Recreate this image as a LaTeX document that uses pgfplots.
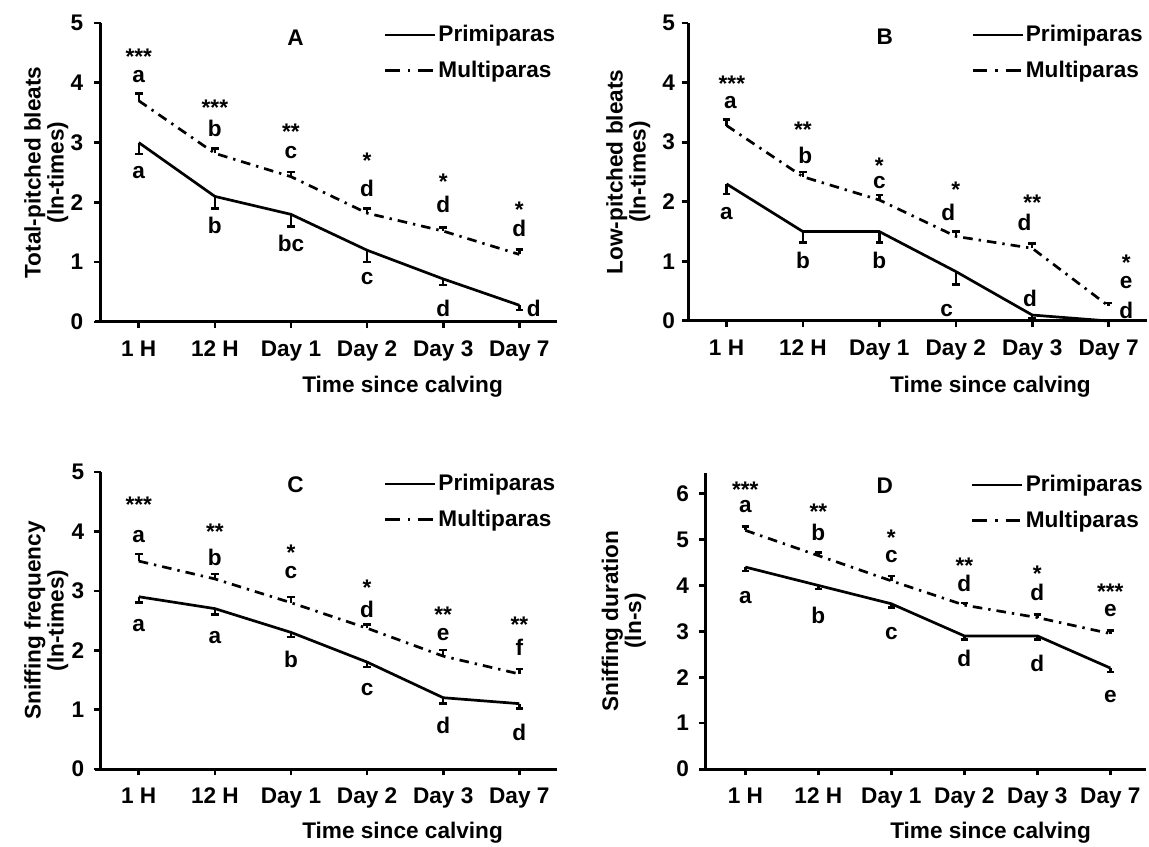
\documentclass[border=0pt]{standalone}
\usepackage{fontspec}
\setmainfont{Liberation Sans}
\usepackage{pgfplots}
\pgfplotsset{compat=1.18}
\newcommand\fs{\fontsize{11.3}{11.5}\selectfont\bfseries}
\tikzset{L/.style={font=\fs, inner sep=0pt}, S/.style={font=\fs, inner sep=0pt, yshift=-2.4pt}}
\pgfplotsset{
  panel/.style={
    scale only axis, anchor=south west, clip=false,
    axis lines*=left,
    axis line style={line width=1.5pt, -},
    x axis line style={shorten <=-3pt},
    xmin=-0.5, xmax=5.5, ymin=0,
    xtick={0,...,5},
    xticklabels={1 H,12 H,Day 1,Day 2,Day 3,Day 7},
    tick align=outside,
    major tick length=3.2pt,
    every tick/.style={line width=1.3pt, black},
    ticklabel style={font=\fs},
    xticklabel style={yshift=-2.5pt, text height=8pt, text depth=2.4pt},
    /pgf/number format/assume math mode=true,
    label style={font=\fs},
    xlabel={Time since calving},
    legend style={draw=none, fill=none, font=\fs, anchor=north west, inner sep=0pt, row sep=6pt,
      nodes={inner sep=1pt}},
    legend cell align=left,
    legend image code/.code={\draw[##1] (0pt,0pt) -- (25pt,0pt);},
  },
  prim/.style={black, line width=1.35pt, mark=none, forget plot,
    error bars/.cd, y dir=minus, y explicit, error mark=-,
    error bar style={line width=1.2pt, black, solid},
    error mark options={rotate=90, line width=1.2pt, mark size=1.9pt, black, solid}},
  multi/.style={black, line width=1.35pt, mark=none, forget plot,
    dash pattern=on 4.8pt off 3pt on 1.2pt off 3pt,
    error bars/.cd, y dir=plus, y explicit, error mark=-,
    error bar style={line width=1.2pt, black, solid},
    error mark options={rotate=90, line width=1.2pt, mark size=1.9pt, black, solid}},
}
\newcommand\legs{%
  \addlegendimage{black, line width=1.35pt}
  \addlegendentry{Primiparas}
  \addlegendimage{black, line width=1.35pt, dash pattern=on 7.4pt off 4pt on 1.2pt off 4pt}
  \addlegendentry{Multiparas}}
\begin{document}
\begin{tikzpicture}
\path[use as bounding box] (0,0) rectangle (574.5pt,423pt);
% ---------------- A
\begin{axis}[panel, at={(50.35pt,262pt)}, width=228.35pt, height=149.5pt,
  ymax=5, ytick={0,1,2,3,4,5},
  yticklabel style={xshift=-2pt},
  ylabel={Total-pitched bleats\\(ln-times)},
  ylabel style={at={(axis description cs:-0.119,0.5)}, anchor=center, align=center},
  xlabel style={at={(axis description cs:0.661,-0.217)}, anchor=center},
  legend style={at={(rel axis cs:0.619,1.0)}}]
\legs
\addplot[prim] coordinates {(0,3.0)+-(0,0.19) (1,2.1)+-(0,0.2) (2,1.8)+-(0,0.2) (3,1.2)+-(0,0.2) (4,0.72)+-(0,0.1) (5,0.28)+-(0,0.08)};
\addplot[multi] coordinates {(0,3.7)+-(0,0.12) (1,2.82)+-(0,0.08) (2,2.43)+-(0,0.08) (3,1.82)+-(0,0.08) (4,1.52)+-(0,0.06) (5,1.13)+-(0,0.08)};
\node[L] at (axis cs:2.06,4.75) {A};
\node[S] at (axis cs:0,4.52) {***};
\node[S] at (axis cs:1,3.66) {***};
\node[S] at (axis cs:2,3.26) {**};
\node[S] at (axis cs:3,2.78) {*};
\node[S] at (axis cs:4,2.42) {*};
\node[S] at (axis cs:5,1.96) {*};
\node[L] at (axis cs:0,4.11) {a};
\node[L] at (axis cs:1,3.24) {b};
\node[L] at (axis cs:2,2.84) {c};
\node[L] at (axis cs:3,2.24) {d};
\node[L] at (axis cs:4,1.96) {d};
\node[L] at (axis cs:5,1.56) {d};
\node[L] at (axis cs:0,2.5) {a};
\node[L] at (axis cs:1,1.62) {b};
\node[L] at (axis cs:2,1.32) {bc};
\node[L] at (axis cs:3,0.73) {c};
\node[L] at (axis cs:4,0.23) {d};
\node[L] at (axis cs:5.19,0.23) {d};
\end{axis}
% ---------------- B
\begin{axis}[panel, at={(344.15pt,262.5pt)}, width=229.3pt, height=149pt,
  ymax=5, ytick={0,1,2,3,4,5},
  ylabel={Low-pitched bleats\\(ln-times)},
  ylabel style={at={(axis description cs:-0.131,0.5)}, anchor=center, align=center},
  xlabel style={at={(axis description cs:0.659,-0.221)}, anchor=center},
  legend style={at={(rel axis cs:0.616,1.0)}}]
\legs
\addplot[prim] coordinates {(0,2.3)+-(0,0.17) (1,1.5)+-(0,0.18) (2,1.5)+-(0,0.18) (3,0.83)+-(0,0.22) (4,0.1)+-(0,0.05) (5,0.0)+-(0,0.0)};
\addplot[multi] coordinates {(0,3.28)+-(0,0.1) (1,2.42)+-(0,0.08) (2,2.03)+-(0,0.08) (3,1.42)+-(0,0.08) (4,1.22)+-(0,0.08) (5,0.25)+-(0,0.05)};
\node[L] at (axis cs:2.07,4.77) {B};
\node[S] at (axis cs:0.07,4.06) {***};
\node[S] at (axis cs:1,3.29) {**};
\node[S] at (axis cs:2,2.69) {*};
\node[S] at (axis cs:3,2.28) {*};
\node[S] at (axis cs:4,2.06) {**};
\node[S] at (axis cs:5.23,1.06) {*};
\node[L] at (axis cs:0.05,3.66) {a};
\node[L] at (axis cs:1.03,2.77) {b};
\node[L] at (axis cs:2,2.32) {c};
\node[L] at (axis cs:2.9,1.83) {d};
\node[L] at (axis cs:3.9,1.65) {d};
\node[L] at (axis cs:5.23,0.64) {e};
\node[L] at (axis cs:0,1.81) {a};
\node[L] at (axis cs:1,1.02) {b};
\node[L] at (axis cs:2,1.02) {b};
\node[L] at (axis cs:2.88,0.18) {c};
\node[L] at (axis cs:3.97,0.38) {d};
\node[L] at (axis cs:5.23,0.18) {d};
\end{axis}
% ---------------- C
\begin{axis}[panel, at={(50.35pt,38.5pt)}, width=228.35pt, height=148.5pt,
  ymax=5, ytick={0,1,2,3,4,5},
  yticklabel style={xshift=-1.5pt},
  ylabel={Sniffing frequency\\(ln-times)},
  ylabel style={at={(axis description cs:-0.119,0.5)}, anchor=center, align=center},
  xlabel style={at={(axis description cs:0.661,-0.215)}, anchor=center},
  legend style={at={(rel axis cs:0.619,1.0)}}]
\legs
\addplot[prim] coordinates {(0,2.9)+-(0,0.1) (1,2.7)+-(0,0.1) (2,2.3)+-(0,0.08) (3,1.8)+-(0,0.08) (4,1.2)+-(0,0.1) (5,1.1)+-(0,0.08)};
\addplot[multi] coordinates {(0,3.5)+-(0,0.12) (1,3.2)+-(0,0.08) (2,2.8)+-(0,0.1) (3,2.37)+-(0,0.06) (4,1.9)+-(0,0.1) (5,1.6)+-(0,0.08)};
\node[L] at (axis cs:2.06,4.78) {C};
\node[S] at (axis cs:0,4.53) {***};
\node[S] at (axis cs:1,4.07) {**};
\node[S] at (axis cs:2,3.72) {*};
\node[S] at (axis cs:3,3.13) {*};
\node[S] at (axis cs:4,2.68) {**};
\node[S] at (axis cs:5,2.51) {**};
\node[L] at (axis cs:0,3.92) {a};
\node[L] at (axis cs:1,3.57) {b};
\node[L] at (axis cs:2,3.3) {c};
\node[L] at (axis cs:3,2.68) {d};
\node[L] at (axis cs:4,2.26) {e};
\node[L] at (axis cs:5,2.05) {f};
\node[L] at (axis cs:0,2.42) {a};
\node[L] at (axis cs:1,2.22) {a};
\node[L] at (axis cs:2,1.84) {b};
\node[L] at (axis cs:3,1.33) {c};
\node[L] at (axis cs:4,0.74) {d};
\node[L] at (axis cs:5,0.62) {d};
\end{axis}
% ---------------- D
\begin{axis}[panel, at={(352.7pt,38.5pt)}, width=220.35pt, height=148pt,
  xmin=-0.547, xmax=5.49,
  ymax=6.45, ytick={0,1,2,3,4,5,6},
  yticklabel style={xshift=-1.5pt},
  ylabel={Sniffing duration\\(ln-s)},
  ylabel style={at={(axis description cs:-0.185,0.5)}, anchor=center, align=center},
  xlabel style={at={(axis description cs:0.647,-0.215)}, anchor=center},
  legend style={at={(rel axis cs:0.602,1.0)}}]
\legs
\addplot[prim] coordinates {(0,4.4)+-(0,0.08) (1,4.0)+-(0,0.08) (2,3.6)+-(0,0.08) (3,2.9)+-(0,0.08) (4,2.9)+-(0,0.08) (5,2.2)+-(0,0.08)};
\addplot[multi] coordinates {(0,5.2)+-(0,0.08) (1,4.65)+-(0,0.07) (2,4.1)+-(0,0.1) (3,3.57)+-(0,0.05) (4,3.3)+-(0,0.07) (5,2.95)+-(0,0.07)};
\node[L] at (axis cs:1.91,6.17) {D};
\node[S] at (axis cs:0,6.19) {***};
\node[S] at (axis cs:1,5.72) {**};
\node[S] at (axis cs:2,5.15) {*};
\node[S] at (axis cs:3,4.54) {**};
\node[S] at (axis cs:4,4.37) {*};
\node[S] at (axis cs:5,3.96) {***};
\node[L] at (axis cs:0,5.72) {a};
\node[L] at (axis cs:1,5.15) {b};
\node[L] at (axis cs:2,4.63) {c};
\node[L] at (axis cs:3,4.04) {d};
\node[L] at (axis cs:4,3.85) {d};
\node[L] at (axis cs:5,3.46) {e};
\node[L] at (axis cs:0,3.74) {a};
\node[L] at (axis cs:1,3.35) {b};
\node[L] at (axis cs:2,2.96) {c};
\node[L] at (axis cs:3,2.41) {d};
\node[L] at (axis cs:4,2.3) {d};
\node[L] at (axis cs:5,1.57) {e};
\end{axis}
\end{tikzpicture}
\end{document}
